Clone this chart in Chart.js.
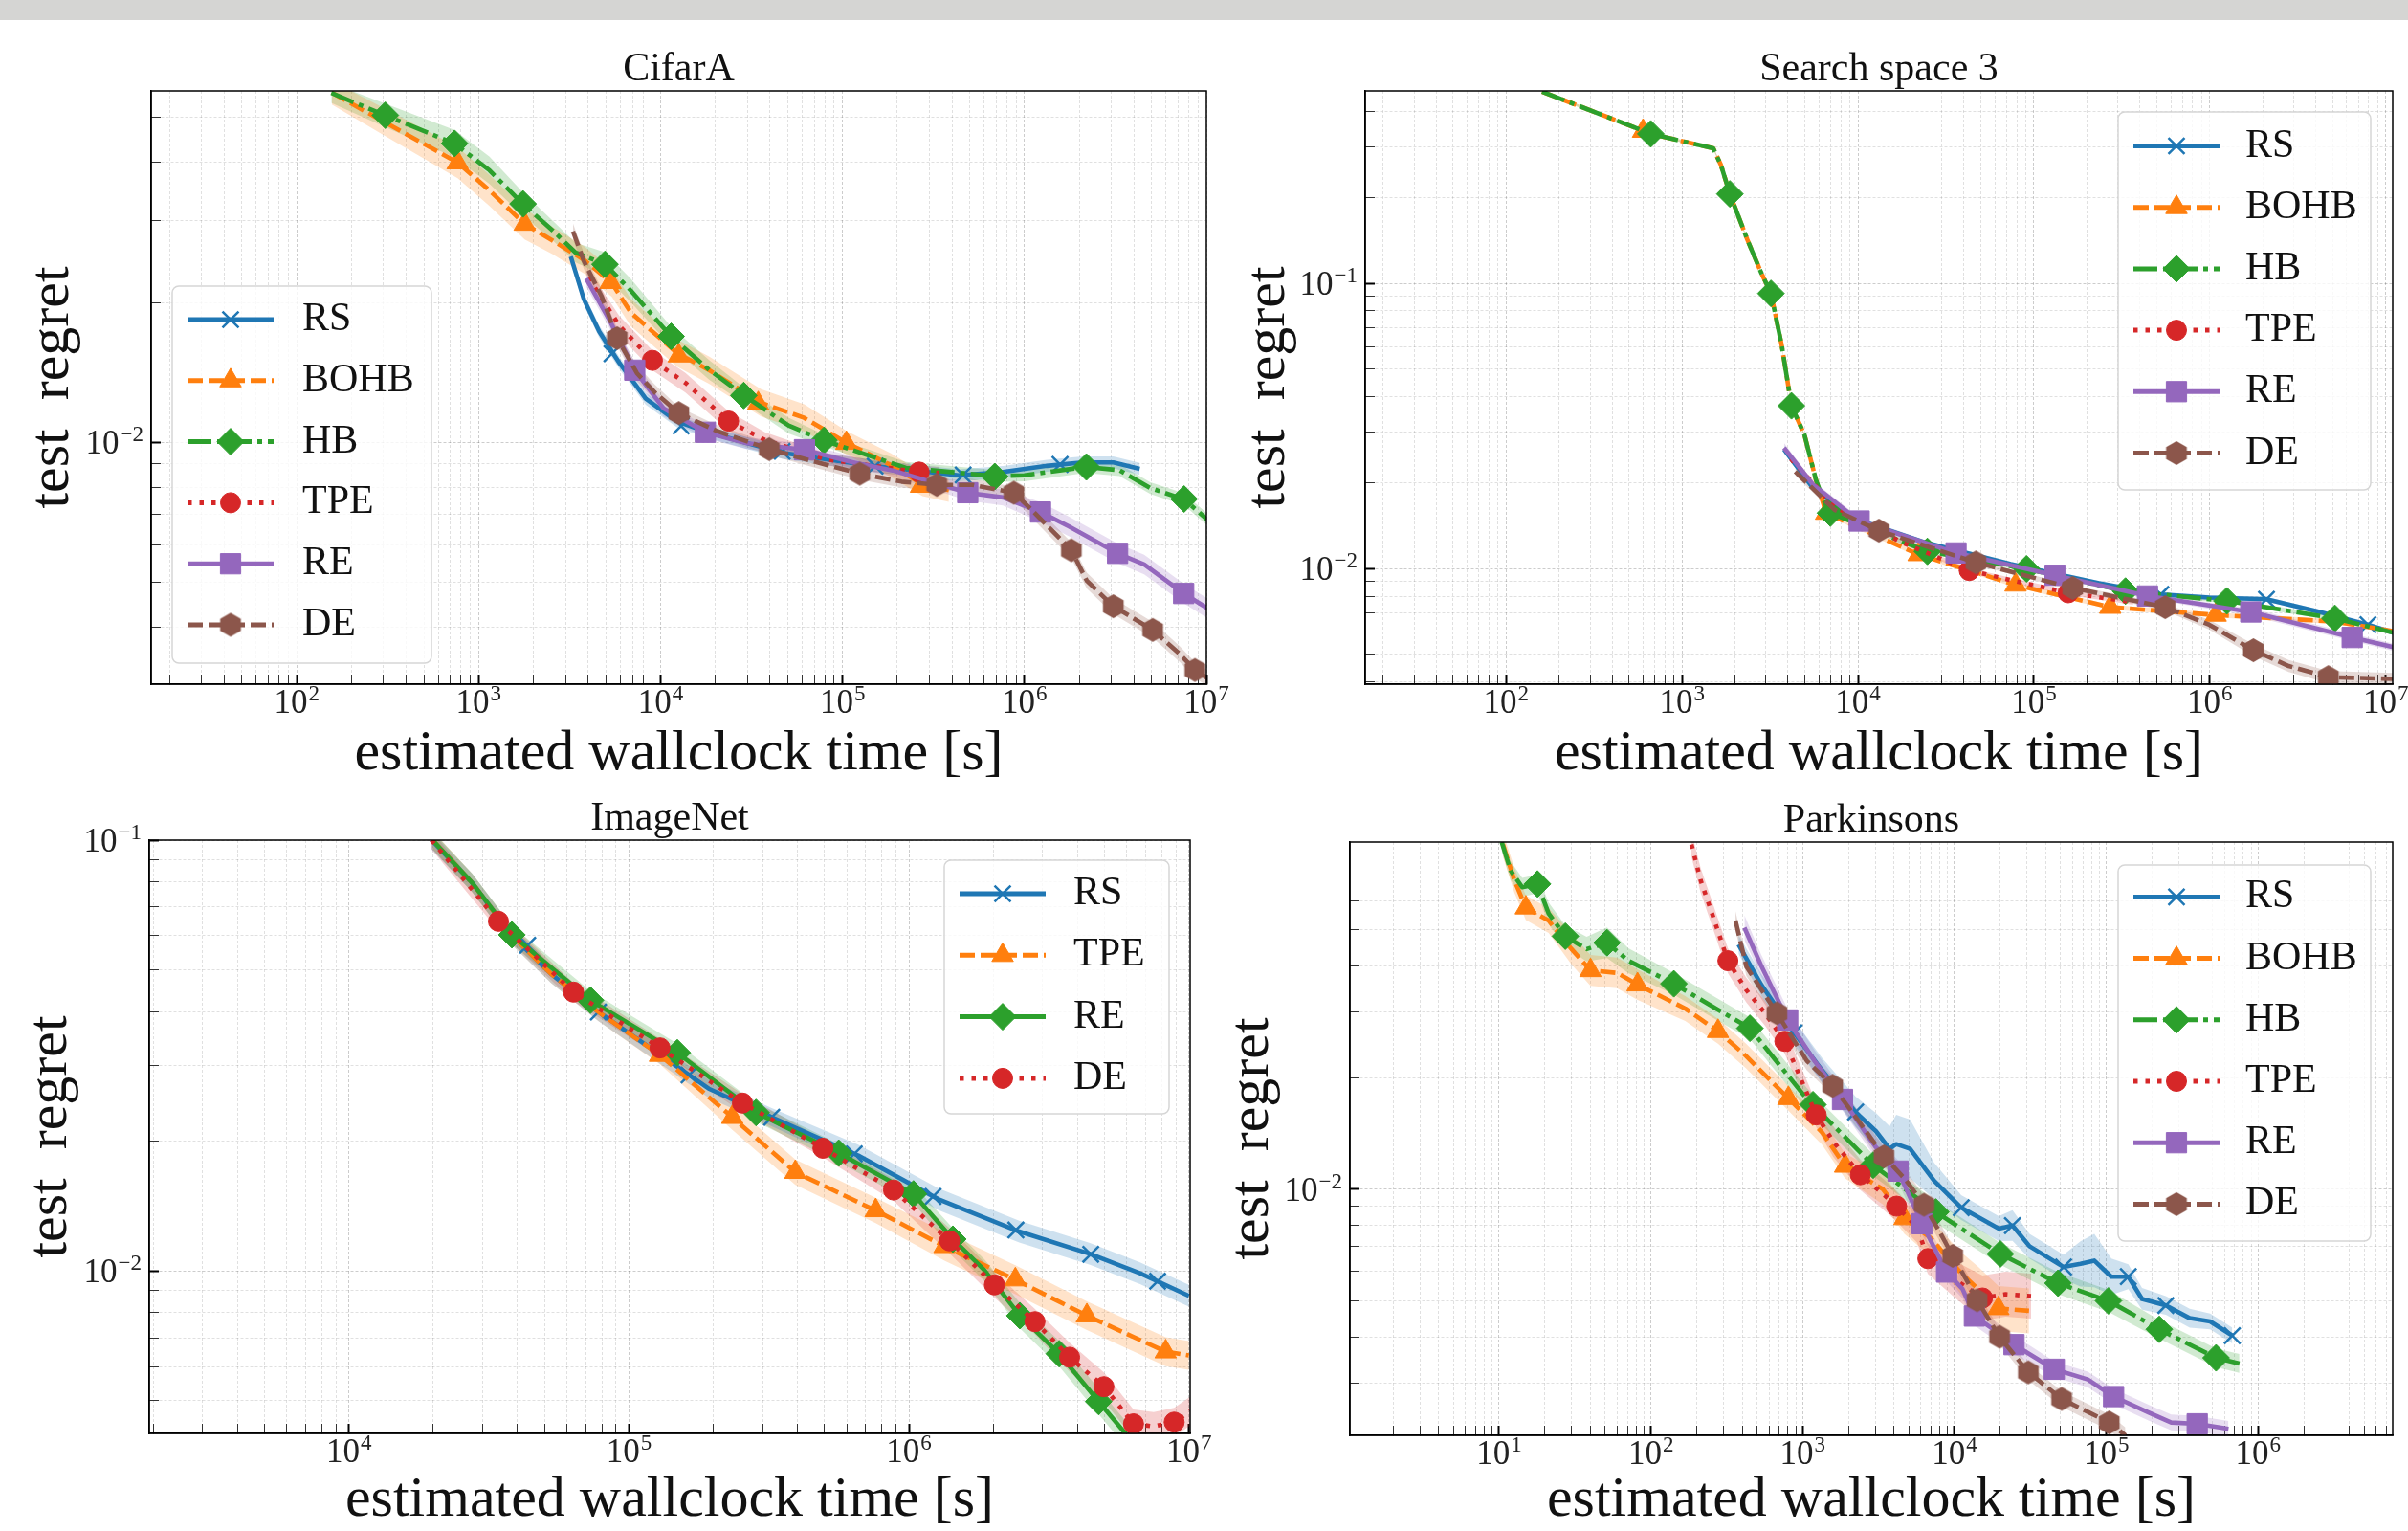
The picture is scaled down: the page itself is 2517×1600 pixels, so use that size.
<!DOCTYPE html>
<html>
<head>
<meta charset="utf-8">
<script src="https://cdn.jsdelivr.net/npm/chart.js@4.4.1/dist/chart.umd.min.js"></script>
<style>
  html, body { margin: 0; padding: 0; background: #fff; }
  #strip { position: absolute; left: 0; top: 0; width: 2517px; height: 21px; background: #d5d5d3; }
  canvas { position: absolute; left: 0; top: 0; }
</style>
</head>
<body>
<div id="strip"></div>
<canvas id="cifar" width="2517" height="1600"></canvas>
<canvas id="ss3" width="2517" height="1600"></canvas>
<canvas id="inet" width="2517" height="1600"></canvas>
<canvas id="park" width="2517" height="1600"></canvas>
<script>
// ---- CifarA: [time, regret, band half-width] and marker points ----
const cifarXRange = [15.85, 1.0e7];
const cifarYRange = [0.00301, 0.0571];
const cifarXTicks = [2, 3, 4, 5, 6, 7];
const cifarYTicks = [-2];

const cifarRS = [[3210,0.0251,0.03],[3790,0.0203,0.03],[4600,0.0173,0.03],[5940,0.0148,0.03],[8290,0.0124,0.03],[12250,0.0111,0.03],[17100,0.01058,0.03],[46800,0.00948,0.03],[142900,0.00889,0.03],[436000,0.00848,0.03],[762000,0.00862,0.03],[1.33e6,0.00889,0.03],[2.08e6,0.00904,0.03],[3.08e6,0.00904,0.03],[4.3e6,0.00876,0.03]];
const cifarRSMarks = [[5400,0.0155],[12970,0.01084],[46600,0.00955],[151000,0.00888],[460000,0.0085],[1.57e6,0.00895]];
const cifarBOHB = [[156,0.0566,0.06],[307,0.0488,0.07],[767,0.04,0.08],[1143,0.0349,0.08],[1791,0.0295,0.08],[2541,0.0272,0.07],[3790,0.0247,0.07],[5400,0.022,0.07],[6870,0.019,0.07],[12280,0.01557,0.07],[18540,0.01428,0.07],[35700,0.01215,0.07],[61600,0.01128,0.07],[106000,0.00995,0.06],[184500,0.00892,0.06],[275000,0.00811,0.06],[384000,0.00788,0.06]];
const cifarBOHBMarks = [[767,0.04],[1791,0.0295],[5310,0.0221],[12590,0.01535],[34400,0.01211],[105000,0.00995],[270000,0.00804]];
const cifarHB = [[155,0.0565,0.05],[306,0.0506,0.06],[735,0.044,0.07],[1148,0.0385,0.07],[1762,0.0325,0.06],[2547,0.0286,0.05],[3410,0.0256,0.05],[4935,0.0242,0.06],[6870,0.0212,0.06],[11400,0.0169,0.05],[18540,0.0143,0.05],[28400,0.01265,0.04],[50500,0.01086,0.04],[79100,0.01008,0.03],[223000,0.0088,0.03],[690000,0.00845,0.03],[998000,0.00848,0.03],[2.17e6,0.00884,0.03],[3.33e6,0.0087,0.03],[4.92e6,0.00796,0.03],[7.54e6,0.00753,0.03],[1.03e7,0.00677,0.03]];
const cifarHBMarks = [[307,0.0506],[738,0.044],[1754,0.0326],[4950,0.02416],[11430,0.0169],[28650,0.0126],[79100,0.01009],[687000,0.00843],[2.19e6,0.00884],[7.54e6,0.00754]];
const cifarTPE = [[4020,0.0226,0.04],[5940,0.0178,0.05],[9020,0.015,0.05],[13700,0.01342,0.05],[23650,0.0111,0.05],[37500,0.0101,0.04],[81400,0.00918,0.03],[263600,0.00862,0.03],[340000,0.00859,0.03]];
const cifarTPEMarks = [[9020,0.015],[23650,0.0111],[263600,0.00862]];
const cifarRE = [[3900,0.0225,0.04],[5310,0.01813,0.04],[7210,0.01429,0.04],[10370,0.01183,0.04],[17620,0.0105,0.03],[29900,0.00994,0.03],[61800,0.00963,0.03],[114300,0.00904,0.03],[188800,0.00869,0.03],[487500,0.00778,0.04],[762000,0.0076,0.04],[1.225e6,0.00707,0.05],[1.76e6,0.00658,0.05],[3.25e6,0.00576,0.05],[4.55e6,0.00545,0.05],[7.5e6,0.00472,0.05],[1.04e7,0.00436,0.05]];
const cifarREMarks = [[7210,0.01429],[17620,0.0105],[61800,0.00963],[487500,0.00778],[1.225e6,0.00707],[3.25e6,0.00576],[7.5e6,0.00472]];
const cifarDE = [[3300,0.02845,0.04],[3790,0.02453,0.04],[4750,0.02058,0.04],[5770,0.01675,0.04],[7410,0.01408,0.04],[9280,0.0128,0.04],[12590,0.01155,0.03],[20240,0.01058,0.03],[39550,0.00966,0.03],[72900,0.00904,0.03],[124400,0.00855,0.03],[211000,0.00822,0.03],[329600,0.00809,0.03],[515000,0.00809,0.03],[875000,0.00778,0.03],[1.06e6,0.00724,0.04],[1.4e6,0.00648,0.04],[1.81e6,0.00585,0.04],[2.2e6,0.00503,0.04],[3.08e6,0.00443,0.04],[5.07e6,0.00394,0.04],[7.11e6,0.0035,0.04],[8.65e6,0.00323,0.04],[1.04e7,0.00308,0.04]];
const cifarDEMarks = [[5770,0.01675],[12590,0.01155],[39550,0.00966],[124400,0.00855],[329600,0.00809],[875000,0.00778],[1.81e6,0.00585],[3.08e6,0.00443],[5.07e6,0.00394],[8.65e6,0.00323]];

// ---- Search space 3 ----
const ss3XRange = [15.8, 1.096e7];
const ss3YRange = [0.00393, 0.473];
const ss3XTicks = [2, 3, 4, 5, 6, 7];
const ss3YTicks = [-1, -2];

const ss3RS = [[3800,0.02618,0.03],[5530,0.01922,0.03],[9840,0.01486,0.02],[23330,0.0124,0.02],[73800,0.01036,0.02],[233800,0.00888,0.02],[527000,0.00811,0.02],[993000,0.00791,0.02],[2.1e6,0.0078,0.02],[4.2e6,0.00704,0.02],[7.93e6,0.00635,0.02],[1.1e7,0.00596,0.02]];
const ss3RSMarks = [[527000,0.00811],[2.1e6,0.0078],[7.93e6,0.00635]];
const ss3BOHB = [[160,0.47,0.01],[321,0.398,0.01],[664,0.3344,0.01],[1059,0.3126,0.01],[1504,0.2977,0.01],[1662,0.2603,0.01],[1870,0.2059,0.01],[2352,0.1421,0.01],[2812,0.1093,0.01],[3203,0.0922,0.01],[3683,0.0608,0.01],[4188,0.0372,0.01],[4966,0.0294,0.01],[5767,0.02045,0.01],[6590,0.01564,0.02],[22100,0.0112,0.02],[78700,0.00876,0.02],[271700,0.00732,0.02],[1.08e6,0.00687,0.02],[5.08e6,0.00652,0.02],[1.1e7,0.00603,0.02]];
const ss3BOHBMarks = [[600,0.342],[6590,0.01564],[22100,0.0112],[78700,0.00876],[271700,0.00732],[1.08e6,0.00687]];
const ss3HB = [[160,0.47,0.01],[321,0.398,0.01],[664,0.3344,0.01],[1059,0.3126,0.01],[1504,0.2977,0.01],[1662,0.2603,0.01],[1870,0.2059,0.01],[2352,0.1421,0.01],[2812,0.1093,0.01],[3203,0.0922,0.01],[3683,0.0608,0.01],[4188,0.0372,0.01],[4966,0.0294,0.01],[5767,0.02045,0.01],[6350,0.0174,0.02],[6970,0.01564,0.02],[24800,0.01148,0.02],[90800,0.00997,0.02],[331700,0.00833,0.02],[1.25e6,0.0077,0.02],[5.14e6,0.00669,0.02],[1.1e7,0.00596,0.02]];
const ss3HBMarks = [[664,0.3344],[1870,0.2059],[3203,0.0922],[4188,0.0372],[6970,0.01564],[24800,0.01148],[90800,0.00997],[331700,0.00833],[1.25e6,0.0077],[5.14e6,0.00669]];
const ss3TPE = [[4150,0.02424,0.03],[7380,0.01647,0.02],[17500,0.0124,0.02],[42900,0.00984,0.02],[73800,0.00911,0.02],[156700,0.00822,0.02],[367000,0.00761,0.02]];
const ss3TPEMarks = [[42900,0.00984],[156700,0.00822]];
const ss3RE = [[3800,0.0265,0.04],[5530,0.01972,0.03],[10160,0.01467,0.03],[36100,0.01134,0.02],[132000,0.00947,0.02],[442500,0.00801,0.02],[1.71e6,0.00704,0.03],[6.45e6,0.00573,0.03],[1.1e7,0.0053,0.03]];
const ss3REMarks = [[10160,0.01467],[36100,0.01134],[132000,0.00947],[442500,0.00801],[1.71e6,0.00704],[6.45e6,0.00573]];
const ss3DE = [[4400,0.02187,0.03],[7380,0.01605,0.03],[13150,0.01358,0.02],[46800,0.0105,0.02],[166300,0.00854,0.02],[558000,0.00732,0.03],[994000,0.00635,0.04],[1.77e6,0.00517,0.05],[2.81e6,0.00455,0.05],[4.72e6,0.00416,0.05],[1.1e7,0.0041,0.05]];
const ss3DEMarks = [[13150,0.01358],[46800,0.0105],[166300,0.00854],[558000,0.00732],[1.77e6,0.00517],[4.72e6,0.00416]];

// ---- ImageNet ----
const inetXRange = [1936, 1.01e7];
const inetYRange = [0.0042, 0.1];
const inetXTicks = [4, 5, 6, 7];
const inetYTicks = [-1, -2];

const inetRS = [[19720,0.1,0.05],[27600,0.0795,0.05],[38200,0.06,0.05],[52800,0.0489,0.05],[77900,0.0399,0.05],[122500,0.03254,0.05],[192800,0.0265,0.05],[323600,0.02275,0.05],[659000,0.01854,0.06],[1.277e6,0.01467,0.06],[2.477e6,0.01235,0.06],[4.43e6,0.01096,0.06],[6.69e6,0.00988,0.06],[1.0e7,0.00876,0.06]];
const inetRSMarks = [[43500,0.057],[77800,0.0399],[164000,0.0285],[323600,0.02275],[638000,0.0187],[1.22e6,0.0149],[2.41e6,0.01245],[4.46e6,0.01094],[7.73e6,0.00947]];
const inetTPE = [[19900,0.1,0.05],[27600,0.0795,0.05],[38200,0.06,0.05],[52800,0.0489,0.05],[77900,0.0399,0.05],[129100,0.0317,0.05],[234000,0.02275,0.07],[393000,0.01696,0.07],[761000,0.01382,0.07],[1.34e6,0.01141,0.08],[2.4e6,0.00955,0.08],[4.32e6,0.00788,0.08],[8.26e6,0.0065,0.08],[1.0e7,0.00637,0.08]];
const inetTPEMarks = [[129100,0.0317],[234000,0.02275],[393000,0.01696],[761000,0.01382],[1.34e6,0.01141],[2.4e6,0.00955],[4.32e6,0.00788],[8.26e6,0.0065]];
const inetRE = [[19900,0.1,0.05],[27600,0.0795,0.05],[38200,0.0603,0.05],[72900,0.0425,0.05],[148900,0.0321,0.05],[284500,0.02333,0.05],[561500,0.01878,0.05],[1.038e6,0.0151,0.05],[1.435e6,0.01186,0.06],[1.86e6,0.01005,0.06],[2.49e6,0.00788,0.07],[3.44e6,0.00643,0.07],[4.76e6,0.00498,0.07],[5.68e6,0.00434,0.07],[6.04e6,0.00414,0.07]];
const inetREMarks = [[38200,0.0603],[72900,0.0425],[148900,0.0321],[284500,0.02333],[561500,0.01878],[1.038e6,0.0151],[1.435e6,0.01186],[2.49e6,0.00788],[3.44e6,0.00643],[4.76e6,0.00498]];
const inetDE = [[19720,0.1,0.05],[34200,0.0648,0.05],[63400,0.0444,0.05],[129100,0.03295,0.05],[254300,0.02454,0.05],[493000,0.01928,0.05],[881000,0.01542,0.06],[1.397e6,0.01175,0.07],[2.02e6,0.00929,0.07],[2.82e6,0.00763,0.07],[3.75e6,0.00631,0.08],[4.97e6,0.00539,0.08],[6.34e6,0.00442,0.08],[7.48e6,0.00436,0.08],[8.86e6,0.00446,0.08],[1.01e7,0.00473,0.08]];
const inetDEMarks = [[34200,0.0648],[63400,0.0444],[129100,0.03295],[254300,0.02454],[493000,0.01928],[881000,0.01542],[1.397e6,0.01175],[2.02e6,0.00929],[2.82e6,0.00763],[3.75e6,0.00631],[4.97e6,0.00539],[6.34e6,0.00442],[8.86e6,0.00446]];

// ---- Parkinsons ----
const parkXRange = [1.04, 7.7e6];
const parkYRange = [0.00217, 0.0863];
const parkXTicks = [1, 2, 3, 4, 5, 6];
const parkYTicks = [-2];

const parkRS = [[377.6,0.0457,0.06],[533,0.0356,0.07],[878,0.02643,0.08],[1340,0.02092,0.08],[2230,0.01615,0.1],[3040,0.01433,0.12],[3735,0.01285,0.15],[4130,0.01323,0.2],[5100,0.01285,0.2],[7330,0.01054,0.12],[11070,0.00892,0.08],[19580,0.00783,0.08],[24090,0.00798,0.1],[31190,0.00702,0.08],[52300,0.00617,0.08],[67600,0.00629,0.15],[83300,0.00642,0.18],[107900,0.00581,0.12],[139600,0.00581,0.08],[171900,0.00506,0.07],[246700,0.00486,0.06],[354500,0.00449,0.06],[483000,0.0044,0.05],[676000,0.00403,0.05]];
const parkRSMarks = [[878,0.0264],[2230,0.01615],[11070,0.00892],[24090,0.00798],[52300,0.00617],[139600,0.00581],[246700,0.00486],[676000,0.00403]];
const parkBOHB = [[10.6,0.0851,0.08],[12.6,0.0681,0.08],[15.0,0.0574,0.08],[21.2,0.053,0.08],[30.0,0.0444,0.1],[40.0,0.0389,0.1],[59.8,0.0383,0.1],[81.7,0.0356,0.1],[168.4,0.0307,0.08],[276.6,0.02666,0.08],[423.6,0.02286,0.08],[805,0.01758,0.08],[1336,0.01426,0.08],[1903,0.01155,0.08],[3376,0.01,0.1],[4677,0.00834,0.1],[6966,0.00738,0.12],[11070,0.00593,0.14],[14360,0.00537,0.15],[19450,0.00477,0.15],[30950,0.0047,0.15]];
const parkBOHBMarks = [[15.0,0.0574],[40.0,0.0389],[81.7,0.0356],[276.6,0.02666],[805,0.01758],[1903,0.01155],[4677,0.00834],[19450,0.00477]];
const parkHB = [[10.4,0.0863,0.06],[11.9,0.0723,0.06],[14.2,0.0652,0.06],[17.9,0.0665,0.06],[21.2,0.0554,0.07],[27.3,0.0481,0.07],[37.7,0.0444,0.08],[51.4,0.0462,0.1],[71.1,0.0413,0.08],[141.6,0.0358,0.07],[268,0.0307,0.07],[449,0.02716,0.07],[1064,0.01752,0.07],[2912,0.01161,0.07],[7530,0.00868,0.07],[20050,0.00669,0.07],[48100,0.00558,0.07],[103300,0.005,0.07],[223300,0.00419,0.06],[528500,0.00351,0.06],[753000,0.00339,0.06]];
const parkHBMarks = [[17.9,0.0665],[27.3,0.0481],[51.4,0.0462],[141.6,0.0358],[449,0.02716],[1169,0.0169],[2912,0.01161],[7530,0.00868],[20050,0.00669],[48100,0.00558],[103300,0.005],[223300,0.00419],[528500,0.00351]];
const parkTPE = [[185,0.085,0.08],[212.5,0.0681,0.08],[252.7,0.0554,0.08],[321.5,0.0413,0.08],[423.6,0.0345,0.08],[565,0.0298,0.08],[762,0.02505,0.08],[949,0.0203,0.08],[1228,0.01586,0.08],[1589,0.01344,0.1],[2397,0.01094,0.1],[3376,0.00971,0.1],[4150,0.009,0.1],[5665,0.0079,0.1],[6670,0.0065,0.1],[10070,0.00571,0.12],[15290,0.00509,0.15],[21700,0.00521,0.15],[31920,0.00515,0.15]];
const parkTPEMarks = [[321.5,0.0413],[762,0.02505],[1228,0.01586],[2397,0.01094],[4150,0.009],[6670,0.0065],[15290,0.00509]];
const parkRE = [[413,0.0507,0.08],[533,0.04005,0.07],[796,0.0286,0.07],[1195,0.02219,0.07],[1829,0.01746,0.07],[3006,0.01304,0.07],[4246,0.01119,0.07],[6115,0.00807,0.07],[8870,0.00598,0.06],[11300,0.00538,0.06],[13520,0.00455,0.06],[18920,0.00413,0.06],[24660,0.00381,0.06],[45400,0.00327,0.05],[75500,0.00307,0.05],[111700,0.00276,0.05],[189500,0.0025,0.05],[267700,0.00235,0.05],[397000,0.00233,0.05],[638000,0.00226,0.05]];
const parkREMarks = [[796,0.0286],[1829,0.01746],[4246,0.01119],[6115,0.00807],[8870,0.00598],[13520,0.00455],[24660,0.00381],[45400,0.00327],[111700,0.00276],[397000,0.00233]];
const parkDE = [[360.6,0.053,0.06],[425.6,0.0398,0.06],[676,0.02982,0.06],[1064,0.02219,0.06],[1574,0.019,0.06],[2384,0.0151,0.06],[3427,0.01226,0.06],[4755,0.01061,0.06],[6295,0.00908,0.06],[7998,0.00766,0.06],[9730,0.00661,0.06],[11950,0.00571,0.05],[14090,0.00502,0.05],[19800,0.004,0.05],[30620,0.00321,0.05],[50800,0.00272,0.05],[104500,0.00235,0.05],[133600,0.00217,0.05]];
const parkDEMarks = [[676,0.02982],[1574,0.019],[3427,0.01226],[6295,0.00908],[9730,0.00661],[14090,0.00502],[19800,0.004],[30620,0.00321],[50800,0.00272],[104500,0.00235]];

const FONT = "'Liberation Serif', 'DejaVu Serif', serif";

function hexagon(color, r) {
  const c = document.createElement('canvas');
  c.width = c.height = Math.ceil(2 * r + 2);
  const g = c.getContext('2d');
  g.translate(c.width / 2, c.height / 2);
  g.beginPath();
  for (let i = 0; i < 6; i++) {
    const a = Math.PI / 2 + i * Math.PI / 3;
    g.lineTo(r * Math.cos(a), r * Math.sin(a));
  }
  g.closePath();
  g.fillStyle = color;
  g.fill();
  return c;
}

// matplotlib-like line/marker looks, in plotting order
const BLUE = {color: '#1f77b4', dash: [], marker: 'crossRot', radius: 12, bw: 2.5};
const ORANGE = {color: '#ff7f0e', dash: [16, 6], marker: 'triangle', radius: 13, bw: 1};
const GREEN = {color: '#2ca02c', dash: [25, 6, 5, 6], marker: 'rectRot', radius: 14, bw: 1};
const RED = {color: '#d62728', dash: [4.5, 8], marker: 'circle', radius: 10.5, bw: 1};
const PURPLE = {color: '#9467bd', dash: [], marker: 'rect', radius: 15, bw: 1};
const BROWN = {color: '#8c564b', dash: [16, 6], marker: hexagon('#8c564b', 12.5), radius: 12, bw: 1};

function tint(hex, a) {
  const n = parseInt(hex.slice(1), 16);
  return `rgba(${n >> 16},${(n >> 8) & 255},${n & 255},${a})`;
}

function logTicks(min, max) {
  const out = [];
  for (let e = Math.floor(Math.log10(min)); e <= Math.ceil(Math.log10(max)); e++) {
    for (let k = 1; k <= 9; k++) {
      const v = Number((k * Math.pow(10, e)).toPrecision(6));
      if (v >= min && v <= max) out.push({value: v, major: k === 1});
    }
  }
  return out;
}

function axis(range, text, isX, size) {
  return {
    type: 'logarithmic',
    min: range[0],
    max: range[1],
    afterBuildTicks: s => { s.ticks = logTicks(range[0], range[1]); },
    afterFit: s => {
      if (isX) s.height = size; else s.width = size;
      s.paddingLeft = s.paddingRight = s.paddingTop = s.paddingBottom = 0;
    },
    ticks: {display: false, autoSkip: false},
    grid: {
      color: c => (c.tick && c.tick.major ? 'rgba(0,0,0,0.2)' : 'rgba(0,0,0,0.12)'),
      lineWidth: 1,
      tickLength: -10,
      tickColor: c => (c.tick && c.tick.major ? '#000' : '#333'),
      tickWidth: c => (c.tick && c.tick.major ? 2 : 1)
    },
    border: {display: true, color: '#000', width: 1.5, dash: [3, 2]},
    title: {display: true, text, color: '#111', padding: 0, font: {family: FONT, size: 60, lineHeight: 1}}
  };
}

// "10" with a raised exponent, like the LaTeX tick labels
function drawPower(ctx, e, x, baseline, align) {
  const base = '10';
  const ex = (e < 0 ? '\u2212' : '') + Math.abs(e);
  ctx.font = `35px ${FONT}`;
  const wb = ctx.measureText(base).width;
  ctx.font = `23px ${FONT}`;
  const we = ctx.measureText(ex).width;
  const left = align === 'center' ? x - (wb + we + 1) / 2 : x - (wb + we + 1);
  ctx.font = `35px ${FONT}`;
  ctx.fillText(base, left, baseline);
  ctx.font = `23px ${FONT}`;
  ctx.fillText(ex, left + wb + 1, baseline - 13);
}

function powerLabels(xLabels, yLabels) {
  return {
    id: 'powerLabels',
    afterDraw(chart) {
      const {ctx, chartArea: a, scales} = chart;
      ctx.save();
      ctx.fillStyle = '#222';
      ctx.textAlign = 'left';
      ctx.textBaseline = 'alphabetic';
      xLabels.forEach(e => drawPower(ctx, e, scales.x.getPixelForValue(Math.pow(10, e)), a.bottom + 30, 'center'));
      yLabels.forEach(e => drawPower(ctx, e, a.left - 8, scales.y.getPixelForValue(Math.pow(10, e)) + 12, 'right'));
      ctx.restore();
    }
  };
}

const frame = {
  id: 'frame',
  afterDatasetsDraw(chart) {
    const {ctx, chartArea: a} = chart;
    ctx.save();
    ctx.strokeStyle = '#000';
    ctx.lineWidth = 1.5;
    ctx.strokeRect(a.left, a.top, a.right - a.left, a.bottom - a.top);
    ctx.restore();
  }
};

function boxLegend(o) {
  return {
    id: 'boxLegend',
    afterDraw(chart) {
      const ctx = chart.ctx;
      const [x, y, w, h] = o.box;
      ctx.save();
      ctx.beginPath();
      if (ctx.roundRect) ctx.roundRect(x, y, w, h, 7); else ctx.rect(x, y, w, h);
      ctx.fillStyle = 'rgba(255,255,255,0.8)';
      ctx.fill();
      ctx.lineWidth = 1.5;
      ctx.strokeStyle = '#d6d6d6';
      ctx.stroke();
      chart.data.datasets.filter(d => d.look).forEach((d, i) => {
        const st = d.look;
        const cy = o.top + i * o.gap;
        const cx = (o.line[0] + o.line[1]) / 2;
        ctx.beginPath();
        ctx.setLineDash(st.dash);
        ctx.lineWidth = 5;
        ctx.strokeStyle = st.color;
        ctx.moveTo(o.line[0], cy);
        ctx.lineTo(o.line[1], cy);
        ctx.stroke();
        ctx.setLineDash([]);
        ctx.fillStyle = st.color;
        ctx.lineWidth = st.bw;
        Chart.helpers.drawPoint(ctx, {pointStyle: st.marker, radius: st.radius, rotation: 0, borderWidth: st.bw}, cx, cy);
        ctx.fillStyle = '#111';
        ctx.font = `42px ${FONT}`;
        ctx.textBaseline = 'middle';
        ctx.textAlign = 'left';
        ctx.fillText(d.label, o.textX, cy);
      });
      ctx.restore();
    }
  };
}

function makePanel(id, cfg) {
  const datasets = [];
  cfg.series.forEach(([label, line, marks, look], i) => {
    const fill = tint(look.color, 0.22);
    datasets.push({data: line.map(p => ({x: p[0], y: p[1] * (1 + p[2])})), borderWidth: 0, pointRadius: 0, fill: '+1', backgroundColor: fill, order: 300});
    datasets.push({data: line.map(p => ({x: p[0], y: p[1] / (1 + p[2])})), borderWidth: 0, pointRadius: 0, fill: false, order: 300});
    datasets.push({label, look, data: line.map(p => ({x: p[0], y: p[1]})), borderColor: look.color, borderWidth: 4.6, borderDash: look.dash, borderJoinStyle: 'round', pointRadius: 0, fill: false, tension: 0, order: 100 - 2 * i});
    datasets.push({data: marks.map(p => ({x: p[0], y: p[1]})), showLine: false, pointStyle: look.marker, pointRadius: look.radius, pointBackgroundColor: look.color, pointBorderColor: look.color, pointBorderWidth: look.bw, order: 99 - 2 * i});
  });

  new Chart(document.getElementById(id), {
    type: 'line',
    data: {datasets},
    options: {
      responsive: false,
      animation: false,
      devicePixelRatio: 1,
      events: [],
      layout: {padding: cfg.pad},
      scales: {
        x: axis(cfg.xRange, 'estimated wallclock time [s]', true, cfg.xH),
        y: axis(cfg.yRange, 'test  regret', false, cfg.yW)
      },
      plugins: {
        legend: {display: false},
        tooltip: {enabled: false},
        title: {display: true, text: cfg.title, fullSize: false, color: '#111', padding: {top: 0, bottom: 1}, font: {family: FONT, size: 42, weight: 'normal', lineHeight: 1}}
      }
    },
    plugins: [frame, powerLabels(cfg.xTicks, cfg.yTicks), boxLegend(cfg.legend)]
  });
}

makePanel('cifar', {
  title: 'CifarA',
  xRange: cifarXRange, yRange: cifarYRange, xTicks: cifarXTicks, yTicks: cifarYTicks,
  pad: {left: 25, top: 52, right: 1256, bottom: 782}, yW: 133, xH: 103,
  legend: {box: [180, 299, 271, 394], top: 334, gap: 63.8, line: [196, 286], textX: 316},
  series: [
    ['RS', cifarRS, cifarRSMarks, BLUE],
    ['BOHB', cifarBOHB, cifarBOHBMarks, ORANGE],
    ['HB', cifarHB, cifarHBMarks, GREEN],
    ['TPE', cifarTPE, cifarTPEMarks, RED],
    ['RE', cifarRE, cifarREMarks, PURPLE],
    ['DE', cifarDE, cifarDEMarks, BROWN]
  ]
});

makePanel('ss3', {
  title: 'Search space 3',
  xRange: ss3XRange, yRange: ss3YRange, xTicks: ss3XTicks, yTicks: ss3YTicks,
  pad: {left: 1296, top: 52, right: 16, bottom: 782}, yW: 131, xH: 103,
  legend: {box: [2214, 117, 264, 395], top: 152.5, gap: 64.2, line: [2230, 2320], textX: 2347},
  series: [
    ['RS', ss3RS, ss3RSMarks, BLUE],
    ['BOHB', ss3BOHB, ss3BOHBMarks, ORANGE],
    ['HB', ss3HB, ss3HBMarks, GREEN],
    ['TPE', ss3TPE, ss3TPEMarks, RED],
    ['RE', ss3RE, ss3REMarks, PURPLE],
    ['DE', ss3DE, ss3DEMarks, BROWN]
  ]
});

makePanel('inet', {
  title: 'ImageNet',
  xRange: inetXRange, yRange: inetYRange, xTicks: inetXTicks, yTicks: inetYTicks,
  pad: {left: 23, top: 835, right: 1273, bottom: 2}, yW: 133, xH: 100,
  legend: {box: [987, 899, 235, 265], top: 934, gap: 64.3, line: [1003, 1093], textX: 1122},
  series: [
    ['RS', inetRS, inetRSMarks, BLUE],
    ['TPE', inetTPE, inetTPEMarks, ORANGE],
    ['RE', inetRE, inetREMarks, Object.assign({}, GREEN, {dash: []})],
    ['DE', inetDE, inetDEMarks, RED]
  ]
});

makePanel('park', {
  title: 'Parkinsons',
  xRange: parkXRange, yRange: parkYRange, xTicks: parkXTicks, yTicks: parkYTicks,
  pad: {left: 1279, top: 837, right: 13, bottom: 2}, yW: 132, xH: 98,
  legend: {box: [2214, 904, 264, 393], top: 937.4, gap: 64.2, line: [2230, 2320], textX: 2347},
  series: [
    ['RS', parkRS, parkRSMarks, BLUE],
    ['BOHB', parkBOHB, parkBOHBMarks, ORANGE],
    ['HB', parkHB, parkHBMarks, GREEN],
    ['TPE', parkTPE, parkTPEMarks, RED],
    ['RE', parkRE, parkREMarks, PURPLE],
    ['DE', parkDE, parkDEMarks, BROWN]
  ]
});
</script>
</body>
</html>
